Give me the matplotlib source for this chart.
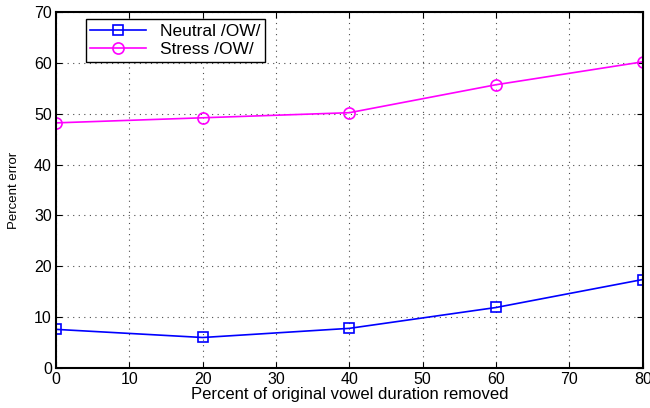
import matplotlib
matplotlib.use("Agg")
import matplotlib.pyplot as plt

# values
removed = [0, 20, 40, 60, 80]
neutral_err = [7.6, 6.0, 7.8, 11.9, 17.4]
stress_err = [48.2, 49.2, 50.2, 55.7, 60.2]

plt.rcParams['font.family'] = ['Liberation Sans', 'DejaVu Sans']

fig = plt.figure(figsize=(6.5, 4.08), dpi=100)
ax = fig.add_axes([0.0862, 0.098, 0.9026, 0.8726])

ax.plot(removed, neutral_err, color='blue', marker='s', markersize=7,
        markerfacecolor='none', markeredgewidth=1.2, linewidth=1.2,
        label='Neutral /OW/')
ax.plot(removed, stress_err, color='magenta', marker='o', markersize=8,
        markerfacecolor='none', markeredgewidth=1.2, linewidth=1.2,
        label='Stress /OW/')

ax.set_xlim(0, 80)
ax.set_ylim(0, 70)
ax.set_xticks(range(0, 81, 10))
ax.set_yticks(range(0, 71, 10))
ax.tick_params(direction='in', top=True, right=True, labelsize=11.5, length=4, pad=3)
ax.grid(True, linestyle=(0, (1, 4)), color='black', linewidth=0.8, alpha=0.7)
for s in ax.spines.values():
    s.set_linewidth(1.5)

ax.set_xlabel('Percent of original vowel duration removed', fontsize=12, labelpad=0)
ax.set_ylabel('Percent error', fontsize=9.5, labelpad=10)

leg = ax.legend(loc='upper left', bbox_to_anchor=(0.051, 0.98), fontsize=12.5,
                fancybox=False, edgecolor='black', framealpha=1,
                handlelength=3.2, borderpad=0.25, labelspacing=0.2,
                borderaxespad=0)
leg.get_frame().set_linewidth(1.0)

fig.savefig('out.png', dpi=100)
